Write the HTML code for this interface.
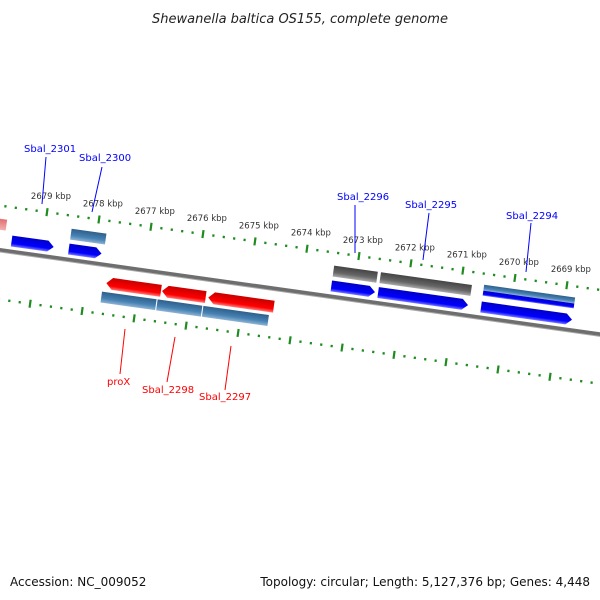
<!DOCTYPE html>
<html><head><meta charset="utf-8"><style>
body{margin:0;background:#fff}
svg{display:block;font-family:"DejaVu Sans","Liberation Sans",sans-serif}
</style></head><body>
<svg id="c" width="600" height="600" viewBox="0 0 600 600">
<defs>
<linearGradient id="gBlue" x1="0" y1="0" x2="0" y2="1"><stop offset="0" stop-color="#0000c8"/><stop offset="0.7" stop-color="#0000ff"/><stop offset="1" stop-color="#7a7aff"/></linearGradient>
<linearGradient id="gRed" x1="0" y1="0" x2="0" y2="1"><stop offset="0" stop-color="#c80000"/><stop offset="0.7" stop-color="#ff0000"/><stop offset="1" stop-color="#ff7a7a"/></linearGradient>
<linearGradient id="gSteel" x1="0" y1="0" x2="0" y2="1"><stop offset="0" stop-color="#2f5f8a"/><stop offset="0.6" stop-color="#4682b4"/><stop offset="1" stop-color="#8fb3d3"/></linearGradient>
<linearGradient id="gGray" x1="0" y1="0" x2="0" y2="1"><stop offset="0" stop-color="#444"/><stop offset="0.6" stop-color="#666"/><stop offset="1" stop-color="#aaa"/></linearGradient>
<linearGradient id="gPink" x1="0" y1="0" x2="0" y2="1"><stop offset="0" stop-color="#e07070"/><stop offset="1" stop-color="#f4b0b0"/></linearGradient>
</defs>
<text x="300" y="23" text-anchor="middle" font-size="13" font-style="italic" fill="#222">Shewanella baltica OS155, complete genome</text>
<g id="frame" transform="translate(0,250) rotate(8)">
<line x1="-50" y1="0" x2="700" y2="0" stroke="#6e6e6e" stroke-width="4"/>
<line x1="-50" y1="2" x2="700" y2="2" stroke="#aaa" stroke-width="1"/>
</g>
<text x="10" y="586" font-size="12" fill="#111">Accession: NC_009052</text>
<text x="590" y="586" text-anchor="end" font-size="12" fill="#111">Topology: circular; Length: 5,127,376 bp; Genes: 4,448</text>
</svg>
<script>
// data
const majorKbp = [2680,2679,2678,2677,2676,2675,2674,2673,2672,2671,2670,2669,2668];
const labelKbp = [2679,2678,2677,2676,2675,2674,2673,2672,2671,2670,2669];
// features: [name, startKbp, endKbp, row, type, arrow]
const geneNames = ["pink-edge","Sbal_2301","Sbal_2300","Sbal_2300b","proX","Sbal_2298","Sbal_2297","proX-cds","Sbal_2298-cds","Sbal_2297-cds","Sbal_2296","Sbal_2295","Sbal_2296-cds","Sbal_2295-cds","Sbal_2294","Sbal_2294b","Sbal_2294-cds"];
const geneStart = [2679.98,2679.59,2678.49,2678.49,2677.69,2676.62,2675.73,2677.75,2676.68,2675.80,2673.44,2672.54,2673.44,2672.54,2670.56,2670.56,2670.56];
const geneEnd   = [2679.73,2678.78,2677.82,2677.86,2676.64,2675.78,2674.47,2676.70,2675.82,2674.54,2672.60,2670.79,2672.60,2670.81,2668.81,2668.81,2668.81];
const geneRow   = ["f2","f1","f2","f1","r1","r1","r1","r2","r2","r2","f2","f2","f1","f1","f3a","f3b","f1"];
const geneType  = ["pink","blue","steel","blue","red","red","red","steel","steel","steel","gray","gray","blue","blue","steel","blue","blue"];
const geneArrow = [0,1,0,1,-1,-1,-1,0,0,0,0,0,1,1,0,0,1];
const blueLabels = ["Sbal_2301","Sbal_2300","Sbal_2296","Sbal_2295","Sbal_2294"];
const redLabels = ["proX","Sbal_2298","Sbal_2297"];

const NS="http://www.w3.org/2000/svg";
const A=8*Math.PI/180, C=Math.cos(A), S=Math.sin(A);
function uOf(k){return 41.2+(2679-k)*52.5;}
function toXY(u,v){return [u*C - v*S, 250 + u*S + v*C];}
const rows={f2:[-31,-20],f1:[-16,-5],f3a:[-33,-27],f3b:[-27,-22],r1:[12,24],r2:[27,38]};
const fills={blue:"url(#gBlue)",red:"url(#gRed)",steel:"url(#gSteel)",gray:"url(#gGray)",pink:"url(#gPink)"};
const frame=document.getElementById('frame');
const svg=document.getElementById('c');

// ticks
for(let k=2680;k>=2667.99;k-=0.2){
  const kk=Math.round(k*10)/10;
  const major=Math.abs(kk-Math.round(kk))<0.01;
  [[0,-44],[-4,49]].forEach(([du,v],i)=>{
    const u=uOf(kk)+du;
    const r=document.createElementNS(NS,'rect');
    r.setAttribute('x',u-1); r.setAttribute('width',2.2);
    r.setAttribute('y',major?v-4:v-1.2); r.setAttribute('height',major?8:2.4);
    r.setAttribute('fill','#1e8c1e');
    
    
    frame.appendChild(r);
  });
}
labelKbp.forEach(k=>{
  const [x,y]=toXY(uOf(k),-44);
  const t=document.createElementNS(NS,'text');
  t.setAttribute('x',x-16); t.setAttribute('y',y-13);
  t.setAttribute('font-size','8.5'); t.setAttribute('fill','#333');
  t.textContent=k+' kbp';
  
  
  svg.appendChild(t);
});
// genes
geneNames.forEach((n,i)=>{
  let u1=uOf(geneStart[i]),u2=uOf(geneEnd[i]);
  const [v1,v2]=rows[geneRow[i]];
  const vm=(v1+v2)/2, h=6; let d;
  if(geneArrow[i]===1){d=`M${u1},${v1}L${u2-h},${v1}L${u2},${vm}L${u2-h},${v2}L${u1},${v2}Z`;}
  else if(geneArrow[i]===-1){d=`M${u2},${v1}L${u1+h},${v1}L${u1},${vm}L${u1+h},${v2}L${u2},${v2}Z`;}
  else d=`M${u1},${v1}L${u2},${v1}L${u2},${v2}L${u1},${v2}Z`;
  const p=document.createElementNS(NS,'path');
  p.setAttribute('d',d); p.setAttribute('fill',fills[geneType[i]]);
  
  
  frame.appendChild(p);
});
// labels
const blueTxt=[[24,152],[79,161],[337,200],[405,208],[506,219]];
const blueLine=[[46,157,42,204],[102,167,92,212],[355,205,355,253],[429,213,423,260],[531,223,526,272]];
const redTxt=[[107,385],[142,393],[199,400]];
const redLine=[[125,329,120,374],[175,337,167,382],[231,346,225,390]];
function lab(arr,txt,lines,col){
  arr.forEach((s,i)=>{
    const l=document.createElementNS(NS,'line');
    l.setAttribute('x1',lines[i][0]);l.setAttribute('y1',lines[i][1]);
    l.setAttribute('x2',lines[i][2]);l.setAttribute('y2',lines[i][3]);
    l.setAttribute('stroke',col);l.setAttribute('stroke-width','1');
    
    
    svg.appendChild(l);
    const t=document.createElementNS(NS,'text');
    t.setAttribute('x',txt[i][0]);t.setAttribute('y',txt[i][1]);
    t.setAttribute('font-size','10');t.setAttribute('fill',col);
    t.textContent=s;
    
    
    svg.appendChild(t);
  });
}
lab(blueLabels,blueTxt,blueLine,'#0000ff');
lab(redLabels,redTxt,redLine,'#ff0000');
</script>
</body></html>
